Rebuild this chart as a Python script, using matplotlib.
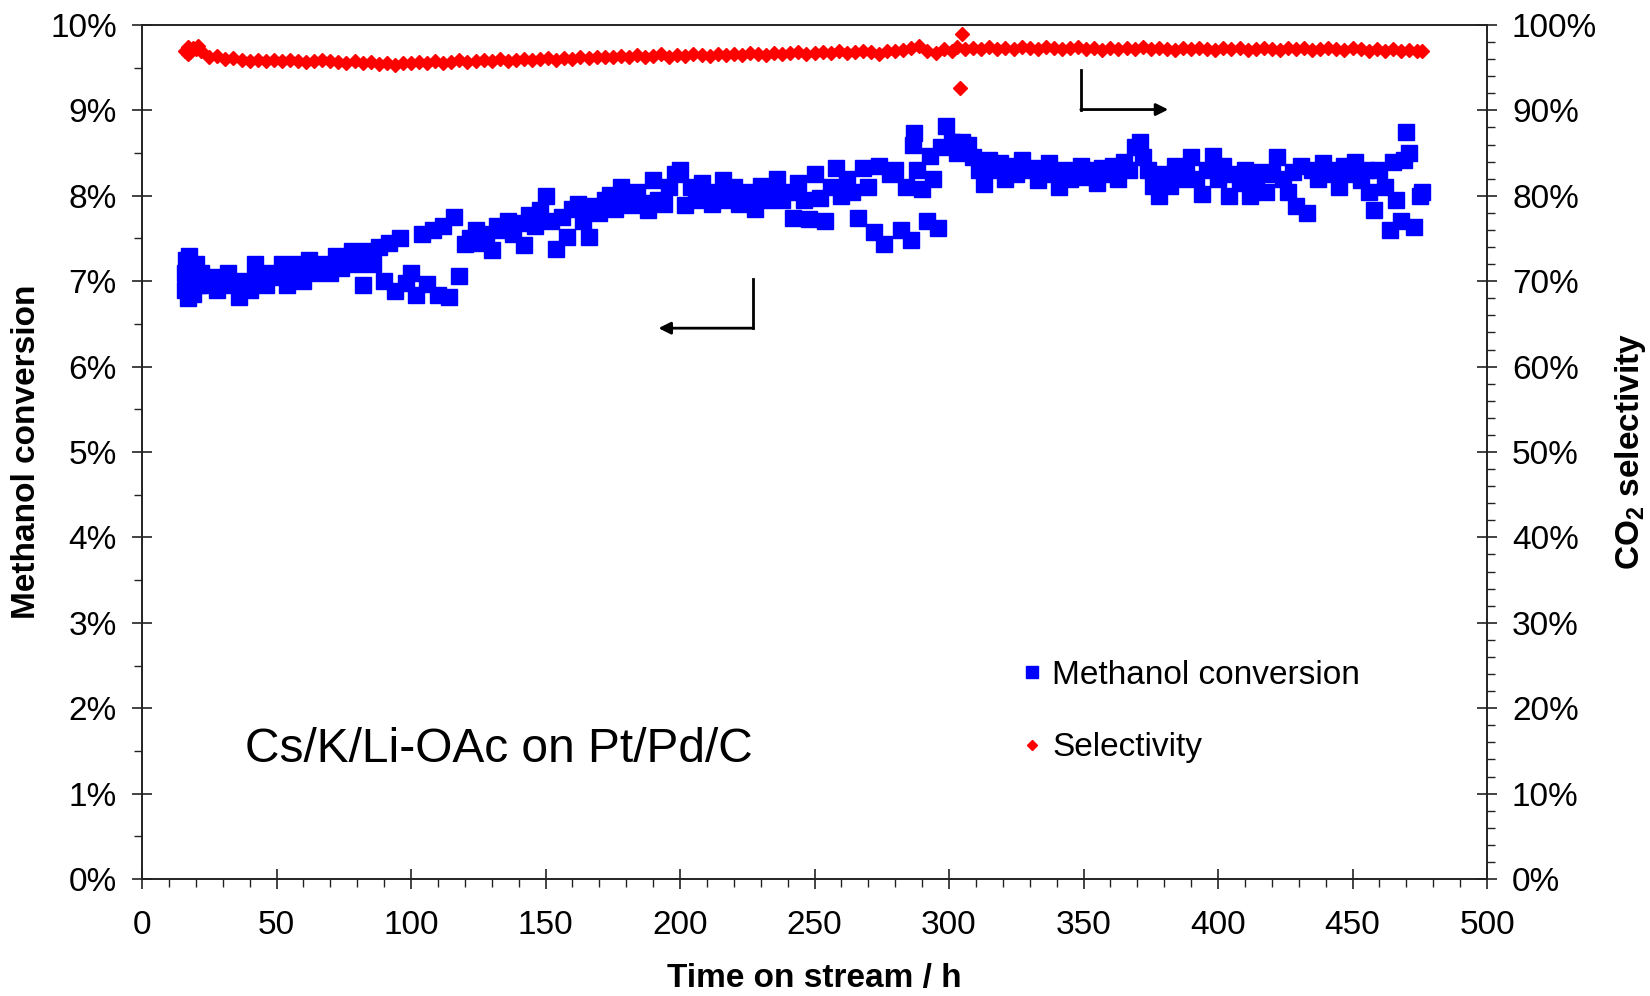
import matplotlib
matplotlib.use("Agg")
import matplotlib.pyplot as plt
from matplotlib.ticker import MultipleLocator, FuncFormatter

plt.rcParams['font.family'] = ['Liberation Sans', 'DejaVu Sans']
plt.rcParams['mathtext.fontset'] = 'custom'
plt.rcParams['mathtext.rm'] = 'Liberation Sans'
plt.rcParams['mathtext.bf'] = 'Liberation Sans:bold'

# methanol conversion (%), left axis
conv_time = [16, 16, 16.5, 17, 17, 17.5, 18, 18, 19, 19, 20, 21,
             22, 24, 26, 28, 30, 32, 34, 36, 38, 40,
             42, 44, 46, 48, 50, 52, 54, 56, 58, 60,
             62, 64, 66, 68, 70, 72, 74, 76, 78, 80,
             82, 84, 86, 88, 90, 92, 94, 96, 98, 100,
             102, 104, 106, 108, 110, 112, 114, 116, 118, 120,
             122, 124, 126, 128, 130, 132, 134, 136, 138, 140,
             142, 144, 146, 148, 150, 152, 154, 156, 158, 160,
             162, 164, 166, 168, 170, 172, 174, 176, 178, 180,
             182, 184, 186, 188, 190, 192, 194, 196, 198, 200,
             202, 204, 206, 208, 210, 212, 214, 216, 218, 220,
             222, 224, 226, 228, 230, 232, 234, 236, 238, 240,
             242, 244, 246, 248, 250, 252, 254, 256, 258, 260,
             262, 264, 266, 268, 270, 272, 274, 276, 278, 280,
             282, 284, 286, 286.5, 287, 288, 290, 292, 293, 294, 296, 297, 299, 301, 303, 305, 307, 309,
             311, 313, 315, 317, 319, 321, 323, 325, 327, 329, 331, 333, 335, 337, 339, 341,
             343, 345, 347, 349, 351, 353, 355, 357, 359, 361, 363, 365, 367, 369, 371, 372,
             374, 376, 378, 380, 382, 384, 386, 388, 390, 392, 394, 396,
             398, 400, 402, 404, 406, 408, 410, 412, 414, 416, 418,
             420, 422, 424, 426, 428, 429, 431, 433, 435, 437, 439, 441, 443, 445, 447, 449, 451,
             453, 455, 456, 458, 460, 462, 464, 465, 466, 468, 469, 470, 471, 473, 475, 476]
conversion = [6.9, 7.1, 7.25, 6.8, 7.0, 7.3, 6.95, 7.15, 7.05, 6.85, 7.2, 6.95,
              7.1, 6.95, 7.05, 6.9, 7.0, 7.1, 6.95, 6.82, 7.0, 6.9,
              7.2, 7.0, 6.95, 7.1, 7.05, 7.2, 6.95, 7.1, 7.2, 7.0,
              7.25, 7.1, 7.15, 7.2, 7.1, 7.3, 7.15, 7.25, 7.35, 7.2,
              6.95, 7.35, 7.2, 7.4, 7.0, 7.45, 6.88, 7.5, 6.98, 7.1,
              6.84, 7.55, 6.97, 7.6, 6.84, 7.65, 6.82, 7.75, 7.06, 7.43,
              7.5, 7.6, 7.45, 7.55, 7.37, 7.65, 7.6, 7.7, 7.55, 7.68,
              7.42, 7.77, 7.65, 7.83, 8.0, 7.7, 7.38, 7.75, 7.52, 7.85,
              7.9, 7.7, 7.52, 7.88, 7.8, 7.95, 8.01, 7.85, 8.1, 7.95,
              7.89, 8.05, 7.92, 7.83, 8.18, 7.95, 7.9, 8.1, 8.26, 8.3,
              7.89, 8.1, 7.95, 8.15, 8.0, 7.9, 8.05, 8.18, 7.95, 8.1,
              7.9, 8.05, 8.0, 7.85, 8.12, 7.95, 8.1, 8.2, 7.95, 8.05,
              7.74, 8.15, 7.95, 7.73, 8.25, 7.98, 7.71, 8.1, 8.32, 8.0,
              8.2, 8.05, 7.74, 8.32, 8.1, 7.58, 8.35, 7.43, 8.25, 8.3,
              7.6, 8.1, 7.48, 8.6, 8.73, 8.3, 8.08, 7.7, 8.47, 8.2, 7.62, 8.57, 8.82, 8.63, 8.5, 8.63, 8.6, 8.45,
              8.3, 8.14, 8.42, 8.3, 8.38, 8.2, 8.35, 8.25, 8.42, 8.3, 8.32, 8.18, 8.3, 8.38, 8.25, 8.1,
              8.3, 8.2, 8.28, 8.35, 8.22, 8.3, 8.15, 8.33, 8.25, 8.35, 8.2, 8.4, 8.3, 8.57, 8.63, 8.45,
              8.3, 8.12, 8.0, 8.25, 8.12, 8.35, 8.2, 8.25, 8.45, 8.2, 8.02, 8.3,
              8.47, 8.2, 8.35, 8.0, 8.25, 8.15, 8.3, 8.0, 8.2, 8.28, 8.05,
              8.25, 8.46, 8.2, 8.05, 8.28, 7.88, 8.35, 7.8, 8.3, 8.2, 8.38, 8.25, 8.3, 8.1, 8.35, 8.25, 8.4,
              8.18, 8.3, 8.05, 7.83, 8.3, 8.1, 7.6, 8.4, 7.95, 7.7, 8.42, 8.75, 8.5, 7.64, 8.0, 8.05]

# CO2 selectivity (%), right axis
sel_time = [16, 17, 17, 18, 19, 20, 21, 22, 25, 28, 31, 34, 37, 40, 43,
            46, 49, 52, 55, 58, 61, 64, 67, 70, 73,
            76, 79, 82, 85, 88, 91, 94, 97, 100, 103,
            106, 109, 112, 115, 118, 121, 124, 127, 130, 133,
            136, 139, 142, 145, 148, 151, 154, 157, 160, 163,
            166, 169, 172, 175, 178, 181, 184, 187, 190, 193,
            196, 199, 202, 205, 208, 211, 214, 217, 220, 223,
            226, 229, 232, 235, 238, 241, 244, 247, 250, 253,
            256, 259, 262, 265, 268, 271, 274, 277, 280, 283,
            286, 289, 292, 295, 298, 301, 303, 304, 305, 306, 309, 312,
            315, 318, 321, 324, 327, 330, 333, 336, 339, 342,
            345, 348, 351, 354, 357, 360, 363, 366, 369, 372,
            375, 378, 381, 384, 387, 390, 393, 396, 399, 402,
            405, 408, 411, 414, 417, 420, 423, 426, 429, 432,
            435, 438, 441, 444, 447, 450, 453, 456, 459, 462,
            465, 468, 471, 474, 476]
selectivity = [97.0, 96.6, 97.4, 96.8, 97.3, 97.2, 97.5, 96.9, 96.3, 96.4, 96.0, 96.1, 95.9, 95.8, 95.9,
               95.8, 95.9, 95.8, 95.9, 95.8, 95.7, 95.8, 95.9, 95.8, 95.7,
               95.6, 95.8, 95.5, 95.7, 95.4, 95.6, 95.3, 95.6, 95.5, 95.7,
               95.6, 95.8, 95.6, 95.7, 95.9, 95.7, 95.8, 95.9, 95.8, 96.0,
               95.8, 95.9, 96.0, 95.9, 96.0, 96.1, 95.9, 96.1, 96.0, 96.2,
               96.1, 96.3, 96.2, 96.3, 96.4, 96.2, 96.5, 96.3, 96.4, 96.6,
               96.3, 96.5, 96.4, 96.6, 96.5, 96.4, 96.6, 96.5, 96.6, 96.5,
               96.7, 96.6, 96.5, 96.7, 96.6, 96.7, 96.8, 96.6, 96.7, 96.8,
               96.7, 96.9, 96.7, 96.8, 96.9, 96.8, 96.6, 96.9, 97.0, 97.1,
               97.3, 97.5, 97.0, 96.7, 97.2, 96.9, 97.4, 92.6, 98.9, 97.2, 97.3, 97.2,
               97.4, 97.2, 97.3, 97.2, 97.4, 97.3, 97.2, 97.4, 97.3, 97.2,
               97.3, 97.4, 97.2, 97.3, 97.1, 97.3, 97.2, 97.3, 97.2, 97.4,
               97.2, 97.3, 97.2, 97.1, 97.3, 97.2, 97.3, 97.2, 97.1, 97.3,
               97.2, 97.3, 97.1, 97.2, 97.3, 97.2, 97.1, 97.3, 97.2, 97.3,
               97.1, 97.2, 97.3, 97.2, 97.1, 97.3, 97.2, 97.0, 97.2, 96.9,
               97.2, 97.0, 97.1, 97.0, 97.0]

fig = plt.figure(figsize=(16.5, 9.96), dpi=100)
ax = fig.add_axes([142 / 1650, 1 - 879 / 996, 1345 / 1650, 854 / 996])
ax2 = ax.twinx()

h1, = ax.plot(conv_time, conversion, linestyle='none', marker='s', ms=11,
              color='#0000FF', mec='#0000FF', label='Methanol conversion')
h2, = ax2.plot(sel_time, selectivity, linestyle='none', marker='D', ms=7,
               color='#FF0000', mec='#FF0000', label='Selectivity')

ax.set_xlim(0, 500)
ax.set_ylim(0, 10)
ax2.set_ylim(0, 100)

ax.xaxis.set_major_locator(MultipleLocator(50))
ax.xaxis.set_minor_locator(MultipleLocator(10))
ax.yaxis.set_major_locator(MultipleLocator(1))
ax.yaxis.set_minor_locator(MultipleLocator(0.5))
ax2.yaxis.set_major_locator(MultipleLocator(10))
ax2.yaxis.set_minor_locator(MultipleLocator(2))
pct = FuncFormatter(lambda v, p: '%d%%' % round(v))
ax.yaxis.set_major_formatter(pct)
ax2.yaxis.set_major_formatter(pct)

for a in (ax, ax2):
    for s in a.spines.values():
        s.set_linewidth(1.2)
        s.set_color('#222222')
ax.tick_params(which='major', direction='inout', length=14, width=1.2, labelsize=24, color='#222222')
ax.tick_params(which='minor', direction='out', length=6, width=1.0, color='#222222')
ax.tick_params(axis='x', which='major', pad=15)
ax.tick_params(axis='y', which='major', pad=11)
ax2.tick_params(which='major', direction='inout', length=14, width=1.2, labelsize=24, pad=11, color='#222222')
ax2.tick_params(which='minor', direction='out', length=6, width=1.0, color='#222222')

ax.set_xlabel('Time on stream / h', fontsize=24, fontweight='bold')
ax.set_ylabel('Methanol conversion', fontsize=24, fontweight='bold')
ax2.set_ylabel(r'CO$_\mathbf{2}$ selectivity', fontsize=24, fontweight='bold')
ax.xaxis.set_label_coords(0.5, -0.116)
ax.xaxis.label.set_va('center')
ax.yaxis.set_label_coords(-0.086, 0.5)
ax.yaxis.label.set_va('center')
ax2.yaxis.set_label_coords(1.107, 0.5)
ax2.yaxis.label.set_va('center')

ax.text(38.3, 1.52, 'Cs/K/Li-OAc on Pt/Pd/C', fontsize=34.5, ha='left', va='center')

# bent arrows pointing at the axis each series belongs to
arrow = dict(arrowstyle='-|>', mutation_scale=18, lw=2, color='black', shrinkA=0, shrinkB=0)
ax.plot([227.3, 227.3], [7.02, 6.45], color='black', lw=2)
ax.annotate('', xy=(192, 6.45), xytext=(227.3, 6.45), arrowprops=arrow)
ax2.plot([349, 349], [94.7, 90.1], color='black', lw=2)
ax2.annotate('', xy=(381.5, 90.1), xytext=(349, 90.1), arrowprops=arrow)

ax2.legend(handles=[h1, h2], loc='upper left', bbox_to_anchor=(0.652, 0.257),
           frameon=False, fontsize=24, handlelength=0.8, handletextpad=0.2,
           labelspacing=1.25, borderpad=0, borderaxespad=0, markerscale=0.8)

fig.savefig('out.png', dpi=100)
